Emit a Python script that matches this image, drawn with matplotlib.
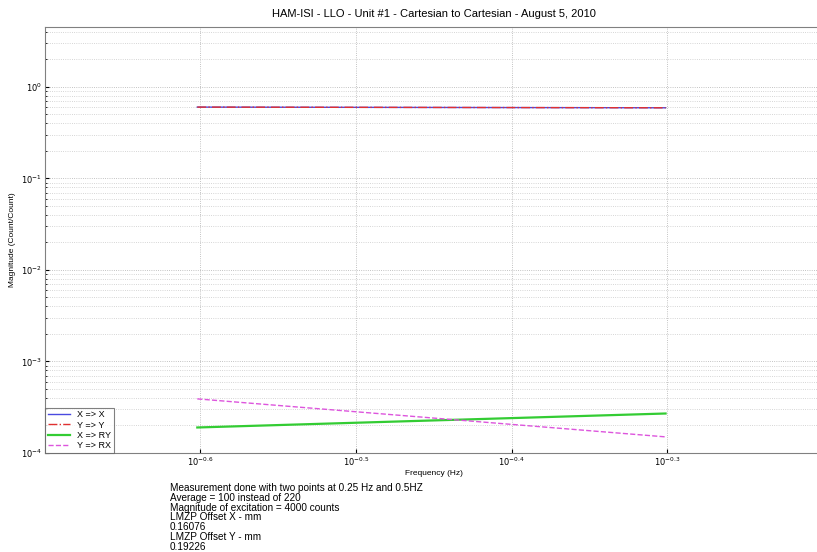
import numpy as np
import matplotlib.pyplot as plt
from matplotlib.ticker import FixedLocator, NullLocator, LogLocator, NullFormatter

plt.rcParams['font.family'] = ['Liberation Sans', 'DejaVu Sans']

# two measurement points
freq = [0.25, 0.5]
x_to_x = [0.60, 0.59]
y_to_y = [0.60, 0.59]
x_to_ry = [1.9e-4, 2.7e-4]
y_to_rx = [3.9e-4, 1.5e-4]

xtick_exp = [-0.6, -0.5, -0.4, -0.3]
ytick_exp = [-4, -3, -2, -1, 0]

notes = [
    "Measurement done with two points at 0.25 Hz and 0.5HZ",
    "Average = 100 instead of 220",
    "Magnitude of excitation = 4000 counts",
    "LMZP Offset X - mm",
    "0.16076",
    "LMZP Offset Y - mm",
    "0.19226",
]

fig = plt.figure(figsize=(8.17, 5.52), dpi=100)
ax = fig.add_axes([0.055, 1 - 453 / 552, 0.952, (453 - 27) / 552])

ax.loglog(freq, x_to_x, color='#4a4ae0', lw=1.0, label='X => X')
ax.loglog(freq, y_to_y, color='#e03030', lw=1.0, ls='-.', label='Y => Y')
ax.loglog(freq, x_to_ry, color='#33cc33', lw=1.6, label='X => RY')
ax.loglog(freq, y_to_rx, color='#dd55dd', lw=1.0, ls='--', label='Y => RX')

ax.set_xlim(10 ** -0.7, 10 ** -0.2)
ax.set_ylim(1e-4, 4.5)

ax.xaxis.set_major_locator(FixedLocator([10 ** e for e in xtick_exp]))
ax.xaxis.set_minor_locator(NullLocator())
ax.set_xticklabels([r'$10^{%g}$' % e for e in xtick_exp])
ax.yaxis.set_major_locator(FixedLocator([10.0 ** e for e in ytick_exp]))
ax.set_yticklabels([r'$10^{%d}$' % e for e in ytick_exp])
ax.yaxis.set_minor_locator(LogLocator(base=10, subs=np.arange(2, 10)))
ax.yaxis.set_minor_formatter(NullFormatter())

ax.tick_params(which='both', direction='in', labelsize=6, length=3, pad=2)
ax.tick_params(which='minor', length=1.5)

ax.grid(which='major', ls=':', color='#b0b0b0', lw=0.6)
ax.grid(which='minor', axis='y', ls=':', color='#c8c8c8', lw=0.6)
for s in ax.spines.values():
    s.set_color('#808080')
    s.set_linewidth(0.8)

ax.set_title("HAM-ISI - LLO - Unit #1 - Cartesian to Cartesian - August 5, 2010",
             fontsize=8, pad=7)
ax.set_xlabel("Frequency (Hz)", fontsize=6, labelpad=1)
ax.set_ylabel("Magnitude (Count/Count)", fontsize=6, labelpad=4)

leg = ax.legend(loc='lower left', fontsize=6.5, frameon=True, fancybox=False,
                edgecolor='#606060', handlelength=2.5, borderpad=0.3,
                labelspacing=0.15, borderaxespad=0.0)
leg.get_frame().set_linewidth(0.8)

fig.text(170 / 817, 1 - 483 / 552, "\n".join(notes), fontsize=7.2, va='top',
         ha='left', linespacing=0.97)

fig.savefig('out.png', dpi=100)
